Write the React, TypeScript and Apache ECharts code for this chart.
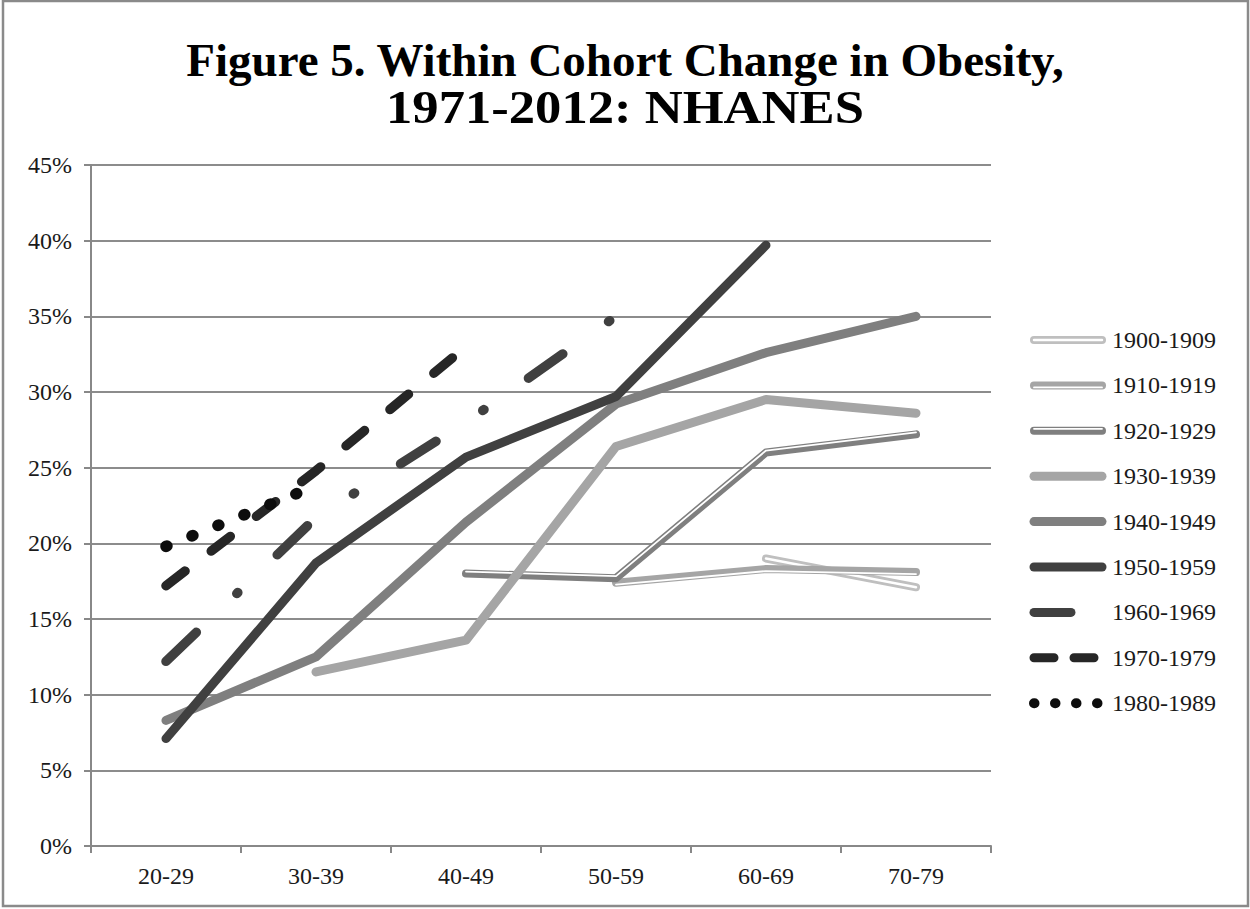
import React, { useEffect, useRef } from 'react';
import * as echarts from 'echarts';

const categories = ['20-29', '30-39', '40-49', '50-59', '60-69', '70-79'];

const c1900 = [null, null, null, null, 19.0, 17.1];
const c1910 = [null, null, null, 17.4, 18.3, 18.1];
const c1920 = [null, null, 18.0, 17.7, 26.0, 27.2];
const c1930 = [null, 11.5, 13.6, 26.4, 29.5, 28.6];
const c1940 = [8.3, 12.5, 21.4, 29.2, 32.6, 35.0];
const c1950 = [7.1, 18.7, 25.7, 29.7, 39.7, null];
const c1960 = [12.2, 21.7, 28.0, 35.0, null, null];
const c1970 = [17.2, 24.8, 33.0, null, null, null];
const c1980 = [19.8, 23.8, null, null, null, null];

const cohortLabels = [
  '1900-1909', '1910-1919', '1920-1929', '1930-1939', '1940-1949',
  '1950-1959', '1960-1969', '1970-1979', '1980-1989',
];

const titleLines = ['Figure 5. Within Cohort Change in Obesity,', '1971-2012: NHANES'];

const FONT = '"Liberation Serif", "Times New Roman", serif';
const TEXT = '#1a1a1a';
const AXIS = '#888888';

export default function App() {
  const ref = useRef<HTMLDivElement>(null);

  useEffect(() => {
    const chart = echarts.init(ref.current as HTMLDivElement, null, { renderer: 'svg' });

    const G = { left: 91, top: 165, width: 900, height: 681 };

    const hiddenX = (gi: number) => ({
      gridIndex: gi, type: 'category', data: categories, boundaryGap: true, show: false,
    });
    const hiddenY = (gi: number) => ({
      gridIndex: gi, type: 'value', min: 0, max: 45, interval: 5, show: false,
      splitLine: { show: false },
    });

    const line = (
      name: string, data: (number | null)[], color: string, width: number,
      gi = 0, type: any = 'solid', cap = 'round'
    ) => ({
      name, type: 'line', data, xAxisIndex: gi, yAxisIndex: gi,
      symbol: 'none', showSymbol: false, silent: true, connectNulls: false,
      lineStyle: { color, width, type, cap, join: 'round' },
    });

    const dash1960 = [42, 56, 1.5, 54.5];
    const dash1970 = [24, 33];
    const dot1980 = [1, 27];

    const series = [
      line('1900-1909', c1900, '#bfbfbf', 8),
      line('1900-1909w', c1900, '#ffffff', 2.5),
      line('1910-1919', c1910, '#a5a5a5', 8),
      line('1910-1919w', c1910, '#ffffff', 1.8, 2),
      line('1920-1929', c1920, '#7f7f7f', 8),
      line('1920-1929w', c1920, '#ffffff', 1.8, 1),
      line('1930-1939', c1930, '#a5a5a5', 9),
      line('1940-1949', c1940, '#7f7f7f', 9),
      line('1950-1959', c1950, '#404040', 9),
      line('1960-1969', c1960, '#404040', 9.5, 0, dash1960),
      line('1970-1979', c1970, '#262626', 9.5, 0, dash1970),
      line('1980-1989', c1980, '#0d0d0d', 11.5, 0, dot1980),
    ];

    const legendItems: any[] = [];
    const lx1 = 1034, lx2 = 1102, ly0 = 340, lstep = 45.4;
    const legendStyles = [
      { color: '#bfbfbf', w: 8, white: 0 },
      { color: '#a5a5a5', w: 8, white: 2 },
      { color: '#7f7f7f', w: 8, white: -2 },
      { color: '#a5a5a5', w: 9 },
      { color: '#7f7f7f', w: 9 },
      { color: '#404040', w: 9 },
      { color: '#404040', w: 9, dash: [37, 60] },
      { color: '#262626', w: 9, dash: [20, 20] },
      { color: '#0d0d0d', w: 10, dash: [0.5, 20.5] },
    ];
    cohortLabels.forEach((lab, i) => {
      const y = ly0 + i * lstep;
      const st: any = legendStyles[i];
      legendItems.push({
        type: 'line', silent: true,
        shape: { x1: lx1, y1: y, x2: lx2, y2: y },
        style: { stroke: st.color, lineWidth: st.w, lineCap: 'round', lineDash: st.dash || null },
      });
      if (st.white !== undefined) {
        legendItems.push({
          type: 'line', silent: true,
          shape: { x1: lx1, y1: y + st.white, x2: lx2, y2: y + st.white },
          style: { stroke: '#ffffff', lineWidth: st.white === 0 ? 2.5 : 1.8, lineCap: 'round' },
        });
      }
      legendItems.push({
        type: 'text', silent: true, x: 1112, y,
        style: { text: lab, font: `24px ${FONT}`, fill: TEXT, align: 'left', verticalAlign: 'middle' },
      });
    });

    const option: any = {
      animation: false,
      backgroundColor: '#ffffff',
      grid: [
        { ...G },
        { ...G, top: G.top - 2 },
        { ...G, top: G.top + 2 },
      ],
      xAxis: [
        {
          gridIndex: 0, type: 'category', data: categories, boundaryGap: true,
          axisLine: { show: true, lineStyle: { color: AXIS, width: 2 } },
          axisTick: { show: true, length: 7, alignWithLabel: false, lineStyle: { color: AXIS, width: 2 } },
          axisLabel: { fontFamily: FONT, fontSize: 24, color: TEXT, margin: 18 },
          splitLine: { show: false },
        },
        hiddenX(1),
        hiddenX(2),
      ],
      yAxis: [
        {
          gridIndex: 0, type: 'value', min: 0, max: 45, interval: 5,
          axisLine: { show: true, lineStyle: { color: AXIS, width: 2 } },
          axisTick: { show: true, length: 7, lineStyle: { color: AXIS, width: 2 } },
          axisLabel: { fontFamily: FONT, fontSize: 24, color: TEXT, margin: 19, formatter: '{value}%' },
          splitLine: { show: true, lineStyle: { color: '#8c8c8c', width: 2 } },
        },
        hiddenY(1),
        hiddenY(2),
      ],
      series,
      graphic: [
        {
          type: 'rect', silent: true, z: 100,
          shape: { x: 3, y: 1, width: 1245, height: 905 },
          style: { fill: 'none', stroke: '#8a8a8a', lineWidth: 2.5 },
        },
        {
          type: 'text', silent: true, x: 625, y: 60,
          style: { text: titleLines[0], font: `bold 47px ${FONT}`, fill: '#000000', align: 'center', verticalAlign: 'middle' },
        },
        {
          type: 'text', silent: true, x: 625, y: 107, scaleX: 1.12,
          style: { text: titleLines[1], font: `bold 47px ${FONT}`, fill: '#000000', align: 'center', verticalAlign: 'middle' },
        },
        ...legendItems,
      ],
    };

    chart.setOption(option);
    return () => chart.dispose();
  }, []);

  return (
    <div
      ref={ref}
      style={{ position: 'absolute', left: 0, top: 0, width: 1250, height: 909, background: '#fff' }}
    />
  );
}
